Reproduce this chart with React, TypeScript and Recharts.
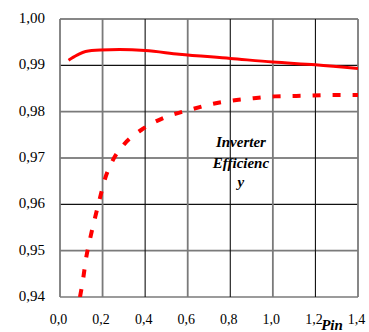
import React from "react";
import { LineChart, Line, XAxis, YAxis, ReferenceLine, ReferenceArea, Label } from "recharts";

const xTicks = [0, 0.2, 0.4, 0.6, 0.8, 1.0, 1.2, 1.4];
const yTicks = [0.94, 0.95, 0.96, 0.97, 0.98, 0.99, 1.0];

const solidX = [0.04, 0.08, 0.12, 0.19, 0.28, 0.4, 0.56, 0.8, 1.0, 1.2, 1.4];
const solidY = [0.9911, 0.9922, 0.993, 0.9933, 0.9934, 0.9932, 0.9924, 0.9915, 0.9907, 0.9901, 0.9893];

const dashX = [0.094, 0.109, 0.122, 0.141, 0.164, 0.188, 0.208, 0.246, 0.302, 0.383, 0.5, 0.61, 0.72, 0.81, 0.91, 1.01, 1.11, 1.3, 1.4];
const dashY = [0.94, 0.944, 0.9482, 0.9525, 0.957, 0.9614, 0.965, 0.9693, 0.973, 0.9761, 0.9789, 0.9804, 0.9817, 0.9824, 0.9829, 0.9833, 0.9834, 0.9836, 0.9836];

const annotationLines = ["Inverter", "Efficienc", "y"];
const axisName = "Pin";

const solidData = solidX.map((x, i) => ({ x, y: solidY[i] }));
const dashData = dashX.map((x, i) => ({ x, y: dashY[i] }));

const grayX = new Set([0, 0.2, 0.6, 1.0, 1.4]);
const grayY = new Set([0.94, 0.95, 0.98]);

const FONT = "Liberation Serif";

const fmtX = (v: number) => v.toFixed(1).replace(".", ",");
const fmtY = (v: number) => v.toFixed(2).replace(".", ",");

const XTick = (props: any) => {
  const { x, y, payload } = props;
  return (
    <text x={x - 1.5} y={y + 27} fontFamily={FONT} fontSize={14} fill="#000" textAnchor="middle">
      {fmtX(payload.value)}
    </text>
  );
};

const YTick = (props: any) => {
  const { x, y, payload } = props;
  return (
    <text x={x - 15} y={y + 4} fontFamily={FONT} fontSize={15} fill="#000" textAnchor="end">
      {fmtY(payload.value)}
    </text>
  );
};

const AnnotationLabel = (props: any) => {
  const vb = props.viewBox || {};
  const cx = vb.x + vb.width / 2;
  const offs = [23, 44, 63];
  return (
    <text fontFamily={FONT} fontSize={15} fontWeight="bold" fontStyle="italic" fill="#000" textAnchor="middle">
      {annotationLines.map((t, i) => (
        <tspan key={i} x={cx} y={vb.y + offs[i]}>
          {t}
        </tspan>
      ))}
    </text>
  );
};

const PinLabel = (props: any) => {
  const vb = props.viewBox || {};
  return (
    <text x={vb.x + vb.width - 26} y={vb.y + 33} fontFamily={FONT} fontSize={15} fontWeight="bold" fontStyle="italic" fill="#000" textAnchor="middle">
      {axisName}
    </text>
  );
};

export default function App() {
  return (
    <div style={{ position: "absolute", left: 0, top: 0, background: "#fff" }}>
      <LineChart width={369} height={332} margin={{ top: 19, right: 11, left: 0, bottom: 4 }}>
        <XAxis
          type="number"
          dataKey="x"
          domain={[0, 1.4]}
          ticks={xTicks}
          axisLine={false}
          tickLine={false}
          tickSize={0}
          tickMargin={0}
          height={31}
          interval={0}
          allowDataOverflow
          tick={<XTick />}
        >
          <Label content={<PinLabel />} />
        </XAxis>
        <YAxis
          type="number"
          dataKey="y"
          domain={[0.94, 1.0]}
          ticks={yTicks}
          axisLine={false}
          tickLine={false}
          tickSize={0}
          tickMargin={0}
          width={60}
          interval={0}
          allowDataOverflow
          tick={<YTick />}
        />
        {yTicks.map((v) => (
          <ReferenceLine
            key={"y" + v}
            y={v}
            stroke={grayY.has(v) ? "#7a7a7a" : "#111"}
            strokeWidth={grayY.has(v) ? 1.6 : 1.1}
          />
        ))}
        {xTicks.map((v) => (
          <ReferenceLine
            key={"x" + v}
            x={v}
            stroke={grayX.has(v) ? "#7a7a7a" : "#111"}
            strokeWidth={grayX.has(v) ? 1.8 : 1.1}
          />
        ))}
        <ReferenceArea x1={0.69} x2={1.01} y1={0.9604} y2={0.9773} fill="#fff" fillOpacity={1} stroke="none" label={<AnnotationLabel />} />
        <Line
          data={solidData}
          dataKey="y"
          type="monotone"
          stroke="#ff0000"
          strokeWidth={3}
          dot={false}
          isAnimationActive={false}
        />
        <Line
          data={dashData}
          dataKey="y"
          type="monotone"
          stroke="#ff0000"
          strokeWidth={4}
          strokeDasharray="8 12"
          dot={false}
          isAnimationActive={false}
        />
      </LineChart>
    </div>
  );
}
